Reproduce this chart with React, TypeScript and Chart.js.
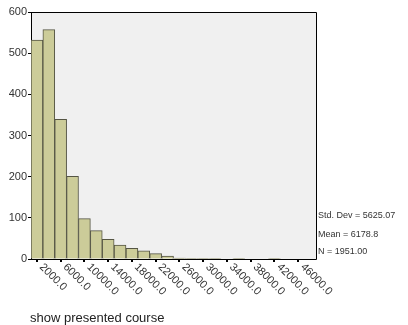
import React, { useEffect, useRef } from 'react';
import { Chart, registerables } from 'chart.js';
Chart.register(...registerables);

const binCenters = [2000, 4000, 6000, 8000, 10000, 12000, 14000, 16000, 18000, 20000, 22000, 24000,
  26000, 28000, 30000, 32000, 34000, 36000, 38000, 40000, 42000, 44000, 46000, 48000];
const counts = [532, 557, 339, 201, 98, 69, 48, 34, 26, 20, 13, 7, 2, 1, 1, 1, 0, 1, 0, 0, 1, 0, 0, 0];
const xTickLabels = ['2000.0', '6000.0', '10000.0', '14000.0', '18000.0', '22000.0', '26000.0',
  '30000.0', '34000.0', '38000.0', '42000.0', '46000.0'];
const stats = ['Std. Dev = 5625.07', 'Mean = 6178.8', 'N = 1951.00'];
const xTitle = 'show presented course';

const FONT = '"Liberation Sans", Arial, sans-serif';

export default function App() {
  const ref = useRef<HTMLCanvasElement>(null);
  useEffect(() => {
    const plugin = {
      id: 'spssLook',
      beforeDraw(chart: any) {
        const { ctx, chartArea: a } = chart;
        ctx.save();
        ctx.fillStyle = '#f0f0f0';
        ctx.fillRect(a.left, a.top, a.right - a.left, a.bottom - a.top);
        ctx.restore();
      },
      afterDraw(chart: any) {
        const { ctx, chartArea: a } = chart;
        const xs = chart.scales.x;
        ctx.save();
        ctx.strokeStyle = '#000';
        ctx.lineWidth = 1;
        ctx.beginPath();
        ctx.moveTo(a.left, a.top + 0.5);
        ctx.lineTo(a.right + 0.5, a.top + 0.5);
        ctx.lineTo(a.right + 0.5, a.bottom + 0.5);
        ctx.lineTo(a.left, a.bottom + 0.5);
        ctx.stroke();
        // x ticks and rotated labels
        ctx.fillStyle = '#333';
        ctx.font = `11px ${FONT}`;
        xTickLabels.forEach((lab, i) => {
          const idx = binCenters.indexOf(parseFloat(lab));
          const px = xs.getPixelForValue(idx);
          ctx.fillStyle = '#000';
          ctx.fillRect(Math.round(px) - 1, a.bottom + 1, 2, 2);
          ctx.save();
          ctx.translate(px, a.bottom + 2);
          ctx.rotate(Math.PI / 4);
          ctx.fillStyle = '#333';
          ctx.textAlign = 'left';
          ctx.textBaseline = 'middle';
          ctx.fillText(lab, 6, 0);
          ctx.restore();
        });
        // stats
        ctx.font = `9px ${FONT}`;
        ctx.fillStyle = '#333';
        ctx.textAlign = 'left';
        ctx.textBaseline = 'middle';
        const ys = [216, 235, 252];
        stats.forEach((s, i) => ctx.fillText(s, a.right + 2, ys[i]));
        // axis title
        ctx.font = `13px ${FONT}`;
        ctx.fillStyle = '#222';
        ctx.fillText(xTitle, 30, 318);
        ctx.restore();
      },
    };
    const chart = new Chart(ref.current as HTMLCanvasElement, {
      type: 'bar',
      data: {
        labels: binCenters.map(String),
        datasets: [{
          data: counts,
          backgroundColor: '#cccc99',
          borderColor: '#555544',
          borderWidth: 1,
          barPercentage: 1,
          categoryPercentage: 1,
        }],
      },
      options: {
        animation: false,
        responsive: false,
        maintainAspectRatio: false,
        layout: { padding: { left: 0, top: 12, right: 92, bottom: 0 } },
        plugins: { legend: { display: false }, tooltip: { enabled: false } },
        scales: {
          x: {
            ticks: { display: false },
            grid: { display: false },
            border: { display: false },
            afterFit: (s: any) => { s.height = 66; },
          },
          y: {
            min: 0,
            max: 600,
            ticks: { stepSize: 100, font: { family: FONT, size: 11 }, color: '#333', padding: 1 },
            grid: { drawOnChartArea: false, drawTicks: true, tickLength: 3, color: '#000' },
            border: { display: true, color: '#000' },
            afterFit: (s: any) => { s.width = 31; },
          },
        },
      },
      plugins: [plugin],
    } as any);
    return () => chart.destroy();
  }, []);
  return (
    <div style={{ position: 'fixed', left: 0, top: 0, width: 408, height: 325, background: '#fff' }}>
      <canvas ref={ref} width={408} height={325} style={{ width: 408, height: 325 }} />
    </div>
  );
}
